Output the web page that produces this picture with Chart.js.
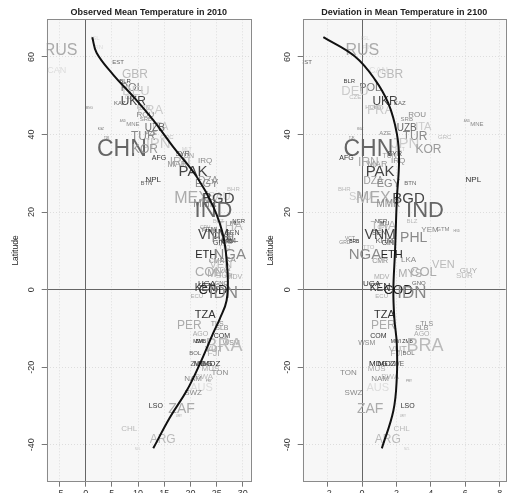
<!DOCTYPE html>
<html>
<head>
<meta charset="utf-8">
<script src="https://cdn.jsdelivr.net/npm/chart.js@4/dist/chart.umd.min.js"></script>
<style>
  html, body { margin: 0; padding: 0; background: #fff; overflow: hidden; width: 511px; height: 493px; }
  #paneL { position: absolute; left: 0; top: 0; width: 255px; height: 510px; }
  #paneR { position: absolute; left: 255px; top: 0; width: 256px; height: 510px; }
</style>
</head>
<body>
<div id="paneL"><canvas id="obs" width="255" height="510"></canvas></div>
<div id="paneR"><canvas id="dev" width="256" height="510"></canvas></div>
<script>
// Country codes with latitude, observed 2010 mean temperature (°C),
// projected deviation by 2100 (°C), relative weight (label size) and
// relative income (label shade, 0 = dark, 1 = light).
const countries = ["ISL","FIN","RUS","EST","CAN","GBR","BLR","POL","DEU","CZE","UKR","KAZ","HUN","MNG","FRA","ROU","SRB","AND","MNE","ITA","UZB","KGZ","AZE","TUR","GRC","TJK","JPN","MLT","CHN","KOR","SYR","TUN","AFG","IRQ","IRN","MAR","PAK","NPL","DZA","BTN","EGY","BHR","SAU","MEX","BGD","MMR","IND","NER","BLZ","MLI","THA","CPV","YEM","GTM","HND","SEN","VNM","VCT","PHL","KHM","BRB","GRD","GIN","TTO","ETH","NGA","LKA","CMR","VEN","GUY","COL","MYS","SUR","MDV","UGA","GNQ","KEN","COD","IDN","ECU","TZA","TLS","PER","SLB","AGO","COM","ZMB","MWI","WSM","BRA","VUT","FJI","BOL","MDG","MOZ","ZWE","MUS","TON","BWA","NAM","PRY","AUS","SWZ","LSO","ZAF","URY","CHL","ARG","NZL"];
const latitude = [64.9,62.5,61.7,58.7,56.6,55.4,53.8,52.0,51.2,49.6,48.4,48.0,47.0,46.9,46.2,45.2,44.0,43.5,42.7,42.0,41.7,41.5,40.3,39.4,39.3,39.0,37.5,36.0,36.0,36.0,35.0,34.5,34.0,33.2,32.8,32.3,30.4,28.2,28.0,27.4,27.2,25.8,24.0,23.5,23.5,21.9,20.2,17.6,17.5,17.0,16.2,16.0,15.5,15.6,15.2,14.5,14.0,13.2,13.2,12.5,12.3,12.1,11.9,11.0,9.0,8.9,7.8,7.4,6.3,4.8,4.4,4.1,3.7,3.2,1.6,1.6,0.3,-0.2,-1.0,-1.8,-6.4,-8.8,-9.4,-9.8,-11.4,-12.0,-13.3,-13.4,-13.8,-14.4,-15.5,-16.4,-16.4,-19.0,-19.0,-19.1,-20.5,-21.4,-22.5,-23.0,-23.6,-25.3,-26.7,-29.9,-30.8,-32.7,-35.9,-38.7,-41.0];
const temp2010 = [1.8,2.4,-4.8,6.2,-5.5,9.4,7.5,8.8,9.6,8.6,9.1,6.5,11.0,0.7,12.3,11.4,11.5,7.1,9.0,14.2,13.2,2.9,12.5,11.0,15.5,4.0,13.5,19.3,6.9,11.3,18.5,19.3,14.0,22.8,18.0,17.5,20.5,12.9,23.4,11.6,23.1,28.2,25.5,20.2,25.3,22.8,24.4,29.2,25.3,28.5,27.5,22.8,23.5,23.5,24.0,28.0,24.4,27.0,26.6,27.0,27.0,27.0,25.5,26.5,23.0,27.5,27.2,25.0,25.8,26.0,23.4,25.5,26.5,28.4,23.1,25.9,22.8,24.3,26.3,21.2,22.8,25.1,19.8,26.0,21.9,26.0,22.0,21.5,27.8,26.4,24.5,24.4,20.9,22.4,24.0,21.5,23.8,25.6,22.6,20.5,23.5,22.1,20.5,13.4,18.3,17.8,8.3,14.7,9.9];
const dev2100 = [0.17,0.30,0.02,-3.26,0.95,1.63,-0.74,0.47,-0.41,-0.40,1.34,2.20,0.56,0.90,1.05,3.20,2.60,6.10,6.67,3.56,2.60,-0.10,1.34,3.08,4.80,-0.60,2.50,2.20,0.37,3.86,1.90,1.60,-0.90,2.10,0.37,0.90,1.05,6.47,0.66,2.80,1.53,-1.03,-0.10,0.66,2.70,1.53,3.66,1.10,2.90,1.30,1.24,1.20,3.95,4.70,5.50,1.00,1.05,-0.70,3.00,1.30,-0.45,-1.00,1.50,0.37,1.72,0.17,2.70,1.05,4.73,6.18,3.57,2.80,5.95,1.14,0.56,3.30,1.05,2.10,2.90,1.14,1.30,3.76,1.24,3.47,3.47,0.95,2.65,1.96,0.27,3.66,2.07,2.00,2.70,0.95,1.43,2.00,0.85,-0.80,1.63,1.05,2.73,0.91,-0.50,2.65,0.47,2.37,2.30,1.50,2.60];
const weight = [0.15,0.15,0.65,0.15,0.30,0.45,0.15,0.40,0.50,0.15,0.45,0.15,0.15,0.00,0.50,0.25,0.15,0.00,0.15,0.40,0.35,0.00,0.15,0.45,0.15,0.00,0.60,0.10,1.00,0.45,0.20,0.20,0.20,0.25,0.45,0.30,0.60,0.25,0.35,0.15,0.40,0.15,0.40,0.65,0.60,0.35,0.95,0.15,0.15,0.15,0.50,0.10,0.25,0.15,0.00,0.20,0.55,0.10,0.55,0.25,0.10,0.10,0.20,0.15,0.40,0.60,0.25,0.20,0.40,0.25,0.50,0.40,0.25,0.20,0.25,0.15,0.35,0.50,0.70,0.15,0.40,0.20,0.45,0.20,0.20,0.20,0.10,0.10,0.20,0.75,0.30,0.30,0.15,0.25,0.25,0.20,0.25,0.25,0.25,0.25,0.00,0.40,0.25,0.20,0.55,0.00,0.25,0.45,0.00];
const income = [0.98,0.98,0.72,0.36,0.98,0.80,0.18,0.45,0.89,0.80,0.18,0.36,0.72,0.54,0.89,0.54,0.54,0.54,0.54,0.89,0.36,0.36,0.54,0.54,0.80,0.36,0.89,0.89,0.36,0.63,0.18,0.63,0.09,0.54,0.72,0.63,0.18,0.09,0.63,0.36,0.54,0.80,0.89,0.72,0.18,0.54,0.36,0.18,0.80,0.18,0.80,0.72,0.54,0.54,0.54,0.27,0.18,0.54,0.54,0.36,0.00,0.54,0.18,0.80,0.00,0.54,0.54,0.54,0.80,0.72,0.72,0.72,0.80,0.72,0.09,0.36,0.09,0.00,0.54,0.72,0.09,0.54,0.72,0.54,0.72,0.09,0.09,0.09,0.54,0.80,0.72,0.72,0.36,0.00,0.09,0.36,0.72,0.54,0.80,0.54,0.54,0.98,0.54,0.09,0.72,0.72,0.80,0.80,0.89];

// Smoothed latitude trends
const trendLat2010  = [65.1, 61.0, 55.4, 49.8, 43.7, 36.8, 29.1, 21.3, 13.6, 4.1, -2.8, -7.5, -11.0, -19.1, -26.0, -32.9, -40.9];
const trendTemp2010 = [1.26, 2.1, 5.27, 9.08, 12.9, 16.7, 21.2, 24.4, 26.3, 27.1, 26.9, 25.6, 24.4, 21.8, 19.3, 16.1, 12.9];
const trendLat2100  = [65.1, 60.1, 54.1, 48.0, 40.3, 33.4, 23.1, 10.2, -0.2, -7.5, -14.0, -22.6, -31.2, -40.9];
const trendDev2100  = [-2.25, -0.41, 0.76, 1.53, 2.02, 2.15, 2.02, 1.92, 1.82, 1.88, 2.02, 2.02, 1.82, 1.15];

// Axis ticks
const latTicks = [-40, -20, 0, 20, 40, 60];
const tempTicks = [-5, 0, 5, 10, 15, 20, 25, 30];
const devTicks = [-2, 0, 2, 4, 6, 8];

const FONT = '"Liberation Sans", Arial, Helvetica, sans-serif';

const panelBackground = {
  id: 'panelBackground',
  beforeDraw(chart) {
    const { ctx, chartArea: a } = chart;
    ctx.save();
    ctx.fillStyle = '#f7f7f7';
    ctx.fillRect(a.left, a.top, a.right - a.left, a.bottom - a.top);
    ctx.restore();
  },
  afterDraw(chart) {
    const { ctx, chartArea: a } = chart;
    ctx.save();
    ctx.strokeStyle = '#8a8a8a';
    ctx.lineWidth = 1;
    ctx.strokeRect(Math.round(a.left) + 0.5, Math.round(a.top) + 0.5,
                   Math.round(a.right - a.left), Math.round(a.bottom - a.top));
    ctx.restore();
  }
};

// Draws each country's code at its data point, sized by weight and shaded by income
const countryLabels = {
  id: 'countryLabels',
  beforeDatasetsDraw(chart) {
    const { ctx, chartArea: a } = chart;
    const meta = chart.getDatasetMeta(0);
    const pts = chart.data.datasets[0].data;
    ctx.save();
    ctx.beginPath();
    ctx.rect(a.left, a.top, a.right - a.left, a.bottom - a.top);
    ctx.clip();
    ctx.textAlign = 'center';
    ctx.textBaseline = 'middle';
    meta.data.forEach((el, i) => {
      const d = pts[i];
      const size = 3 + 20 * d.w;
      const g = Math.round(34 + 190 * d.inc);
      ctx.font = size.toFixed(1) + 'px ' + FONT;
      ctx.fillStyle = 'rgb(' + g + ',' + g + ',' + g + ')';
      ctx.fillText(d.code, el.x, el.y);
    });
    ctx.restore();
  }
};

function makePanel(canvasId, title, xValues, xMin, xMax, xTicks, trendX, trendY, yAxisWidth, rightPad) {
  const labelPts = countries.map((c, i) => ({ x: xValues[i], y: latitude[i], code: c, w: weight[i], inc: income[i] }));
  const trendPts = trendY.map((lat, i) => ({ x: trendX[i], y: lat }));
  const zeroAware = (ctx) => (ctx.tick && ctx.tick.value === 0) ? '#666' : '#dddddd';
  const zeroDash = (ctx) => (ctx.tick && ctx.tick.value === 0) ? [] : [1, 2];
  return new Chart(document.getElementById(canvasId), {
    type: 'scatter',
    data: {
      datasets: [
        { data: labelPts, pointRadius: 0, pointHoverRadius: 0, showLine: false },
        { data: trendPts, showLine: true, pointRadius: 0, borderColor: '#111', borderWidth: 2, tension: 0.4, fill: false }
      ]
    },
    options: {
      responsive: false,
      animation: false,
      events: [],
      devicePixelRatio: 1,
      layout: { padding: { left: 0, right: rightPad, top: 0, bottom: 0 } },
      plugins: {
        legend: { display: false },
        tooltip: { enabled: false },
        title: {
          display: true, text: title, fullSize: false, color: '#222',
          font: { family: FONT, size: 9, weight: 'bold' },
          padding: { top: 7, bottom: 1.5 }
        }
      },
      scales: {
        x: {
          type: 'linear', min: xMin, max: xMax,
          afterBuildTicks: (s) => { s.ticks = xTicks.map(v => ({ value: v })); },
          afterFit: (s) => { s.height = 28.3; },
          ticks: { font: { family: FONT, size: 9 }, color: '#333', padding: 1, maxRotation: 0 },
          grid: { color: zeroAware, tickColor: '#777', tickLength: 5, drawTicks: true },
          border: { display: false, dash: zeroDash }
        },
        y: {
          type: 'linear', min: -49.5, max: 69.7,
          afterBuildTicks: (s) => { s.ticks = latTicks.map(v => ({ value: v })); },
          afterFit: (s) => { s.width = yAxisWidth; },
          ticks: { font: { family: FONT, size: 9 }, color: '#333', minRotation: 90, maxRotation: 90, crossAlign: 'center', padding: 3.5 },
          grid: { color: zeroAware, tickColor: '#777', tickLength: 5, drawTicks: true },
          border: { display: false, dash: zeroDash },
          title: { display: true, text: 'Latitude', color: '#222', font: { family: FONT, size: 8.5 }, padding: { top: 10.6, bottom: 0 } }
        }
      }
    },
    plugins: [panelBackground, countryLabels]
  });
}

makePanel('obs', 'Observed Mean Temperature in 2010', temp2010, -7.44, 31.5, tempTicks, trendTemp2010, trendLat2010, 46.7, 4.3);
makePanel('dev', 'Deviation in Mean Temperature in 2100', dev2100, -3.45, 8.35, devTicks, trendDev2100, trendLat2100, 47.7, 5.3);
</script>
</body>
</html>
